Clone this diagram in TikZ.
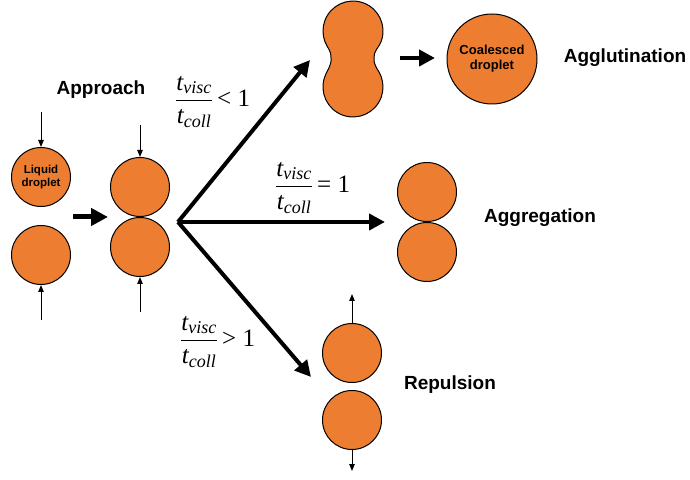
\documentclass[tikz,border=0pt]{standalone}
\usepackage{fontspec}
\setmainfont{Liberation Sans}
\newfontfamily\tnr{Liberation Serif}
\usetikzlibrary{arrows.meta}

\newcommand{\tratio}[1]{\fontsize{25}{30}\selectfont
  $\displaystyle\frac{\mbox{\tnr\itshape t}_{\mbox{\tnr\itshape\fontsize{18}{20}\selectfont visc}}}
         {\mbox{\tnr\itshape t}_{\mbox{\tnr\itshape\fontsize{18}{20}\selectfont coll}}}\,
   \mbox{\tnr #1}$}

\begin{document}
\begin{tikzpicture}[
        x=1pt, y=1pt,
        drop/.style={circle, draw, line width=1pt, fill=dropcol, minimum size=59pt, inner sep=0pt,
            font=\bfseries\fontsize{11.5}{12.5}\selectfont, align=center},
        bigdrop/.style={drop, minimum size=90pt, font=\bfseries\fontsize{13}{15}\selectfont},
        stage/.style={font=\bfseries\fontsize{19}{21}\selectfont},
        push/.style={-{Triangle[length=7pt,width=5.5pt]}, line width=1pt},
        arrow/.style={-{Triangle[length=16pt,width=16pt]}, line width=4pt},
        fat/.style={-{Triangle[length=17pt,width=17pt]}, line width=5pt}
    ]
        \definecolor{dropcol}{HTML}{ED7D31}
        \useasboundingbox (0,0) rectangle (690,479);

        % approaching droplets
        \node[drop] (d1) at (41,302) {Liquid\\droplet};
        \node[drop] (d2) at (41,224) {};
        \coordinate (d1in) at (41,367);
        \coordinate (d2in) at (41,159);
        \draw[push] (d1in) -- (d1);
        \draw[push] (d2in) -- (d2);
        \node[stage] (appr) at (101,389) {Approach};

        % droplets in contact
        \node[drop] (c1) at (140,292) {};
        \node[drop] (c2) at (140,232) {};
        \coordinate (c1in) at (140,354);
        \coordinate (c2in) at (140,167);
        \draw[push] (c1in) -- (c1);
        \draw[push] (c2in) -- (c2);
        \coordinate (a1) at (73,262);
        \coordinate (a2) at (108,262);
        \draw[fat] (a1) -- (a2);

        % fork
        \coordinate (fork) at (178,257);
        \coordinate (up) at (310,419);
        \coordinate (mid) at (385,257);
        \coordinate (down) at (311,102);
        \draw[arrow] (fork) -- (up);
        \draw[arrow] (fork) -- (mid);
        \draw[arrow] (fork) -- (down);
        \node[anchor=west, inner sep=0pt] (rlt) at (175,377) {\tratio{< 1}};
        \node[anchor=west, inner sep=0pt] (req) at (275,291) {\tratio{= 1}};
        \node[anchor=west, inner sep=0pt] (rgt) at (180,137) {\tratio{> 1}};

        % agglutination
        \draw[line width=1pt, fill=dropcol] (374,421)
            to[out=95, in=250] (381.2,437.7) arc[start angle=-20, end angle=200, radius=30]
            to[out=290, in=85] (331,421)
            to[out=275, in=70] (324.8,402.3) arc[start angle=160, end angle=380, radius=30]
            to[out=110, in=265] cycle;
        \coordinate (p1) at (400,421);
        \coordinate (p2) at (435,421);
        \draw[arrow] (p1) -- (p2);
        \node[bigdrop] (coal) at (492,420) {Coalesced\\droplet};
        \node[stage] (aggl) at (625,421) {Agglutination};

        % aggregation
        \node[drop] (g1) at (427,287) {};
        \node[drop] (g2) at (427,227) {};
        \node[stage] (aggr) at (540,261) {Aggregation};

        % repulsion
        \node[drop] (r1) at (352,126) {};
        \node[drop] (r2) at (352,59) {};
        \coordinate (r1out) at (352,185);
        \coordinate (r2out) at (352,8);
        \draw[push] (r1) -- (r1out);
        \draw[push] (r2) -- (r2out);
        \node[stage] (rep) at (450,94) {Repulsion};
    \end{tikzpicture}
\end{document}
